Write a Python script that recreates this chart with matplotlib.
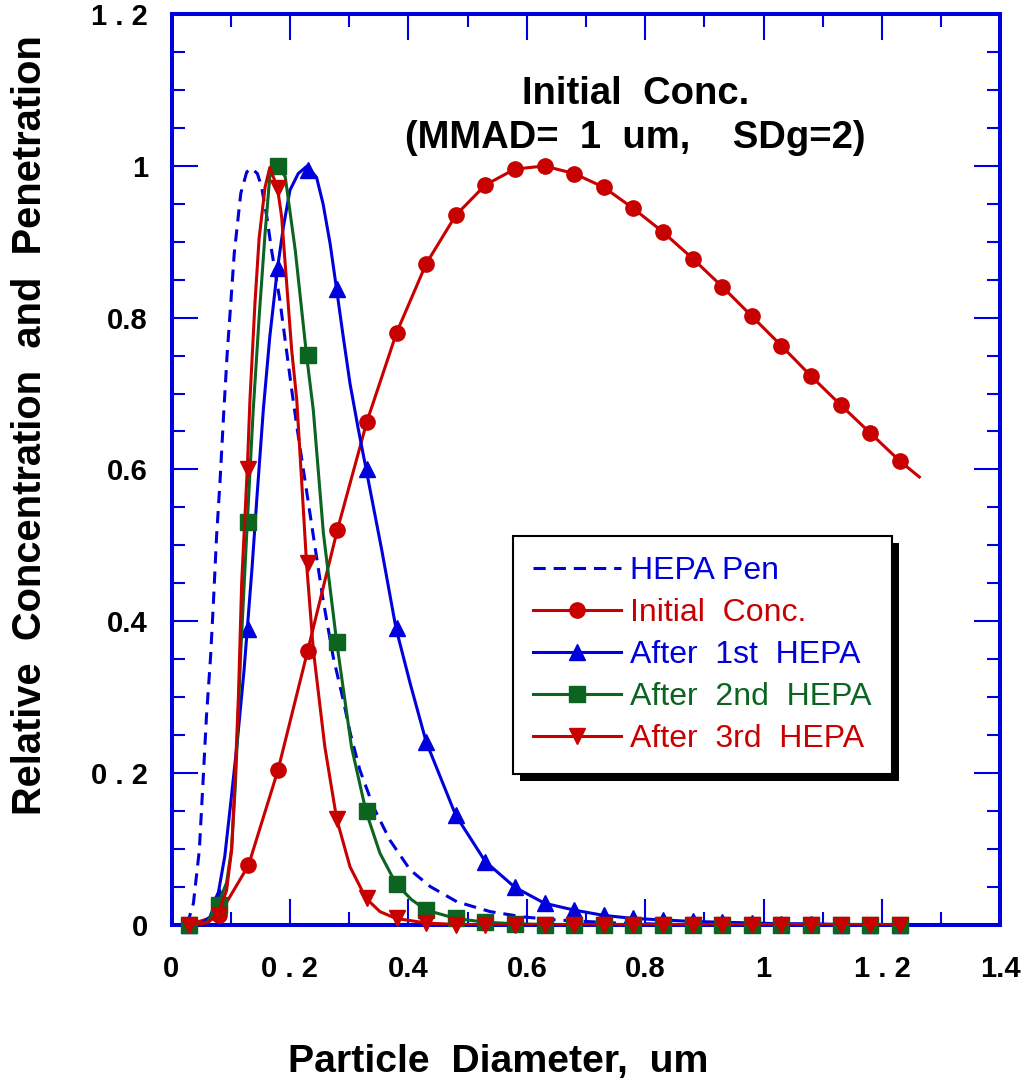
import numpy as np
import matplotlib.pyplot as plt
from matplotlib.lines import Line2D
from matplotlib.patches import Rectangle

plt.rcParams['font.family'] = ['Liberation Sans', 'DejaVu Sans']

BLUE = '#0000DD'
RED = '#C80000'
GREEN = '#0B6420'

# particle diameters where the markers sit (um)
d_mark = [0.03, 0.08, 0.13, 0.18, 0.23, 0.28, 0.33, 0.38, 0.43, 0.48, 0.53, 0.58, 0.63,
          0.68, 0.73, 0.78, 0.83, 0.88, 0.93, 0.98, 1.03, 1.08, 1.13, 1.18, 1.23]
init_mark = [0.0, 0.012, 0.078, 0.204, 0.361, 0.520, 0.663, 0.780, 0.871, 0.935, 0.975, 0.996, 1.000,
             0.990, 0.972, 0.944, 0.913, 0.878, 0.841, 0.802, 0.763, 0.723, 0.685, 0.648, 0.611]
h1_mark = [0.0, 0.037, 0.390, 0.865, 0.995, 0.838, 0.601, 0.391, 0.241, 0.144, 0.083, 0.049, 0.028,
           0.019, 0.012, 0.008, 0.006, 0.004, 0.003, 0.002, 0.001, 0.001, 0.0, 0.0, 0.0]
h2_mark = [0.0, 0.026, 0.530, 1.000, 0.751, 0.372, 0.149, 0.054, 0.019, 0.008, 0.003, 0.001, 0.0,
           0.0, 0.0, 0.0, 0.0, 0.0, 0.0, 0.0, 0.0, 0.0, 0.0, 0.0, 0.0]
h3_mark = [0.0, 0.0125, 0.601, 0.971, 0.477, 0.139, 0.0345, 0.008, 0.002, 0.0, 0.0, 0.0, 0.0,
           0.0, 0.0, 0.0, 0.0, 0.0, 0.0, 0.0, 0.0, 0.0, 0.0, 0.0, 0.0]

# curves
pen_x = [0.025, 0.028, 0.037, 0.047, 0.054, 0.059, 0.066, 0.071, 0.076, 0.082, 0.088, 0.094, 0.100,
         0.106, 0.117, 0.127, 0.135, 0.145, 0.152, 0.161, 0.169, 0.183, 0.192, 0.203, 0.212, 0.223,
         0.240, 0.256, 0.273, 0.290, 0.302, 0.318, 0.341, 0.369, 0.403, 0.437, 0.482, 0.538, 0.594,
         0.65, 0.70, 0.75, 0.80, 0.85]
pen_y = [0.0, 0.004, 0.028, 0.098, 0.199, 0.274, 0.353, 0.428, 0.510, 0.585, 0.672, 0.752, 0.818,
         0.885, 0.964, 0.992, 0.997, 0.990, 0.973, 0.933, 0.889, 0.823, 0.770, 0.705, 0.655, 0.598,
         0.510, 0.428, 0.353, 0.296, 0.252, 0.204, 0.155, 0.111, 0.072, 0.050, 0.030, 0.017, 0.010,
         0.006, 0.004, 0.002, 0.001, 0.0]

init_x = d_mark + [1.263]
init_y = init_mark + [0.590]

h1_x = [0.03, 0.05, 0.065, 0.078, 0.090, 0.100, 0.111, 0.1225, 0.128, 0.136, 0.144, 0.155, 0.166,
        0.179, 0.189, 0.200, 0.214, 0.229, 0.245, 0.256, 0.268, 0.278, 0.290, 0.3015, 0.315, 0.3285,
        0.355, 0.379, 0.403, 0.430, 0.48, 0.53, 0.58, 0.63, 0.68, 0.73, 0.78, 0.83, 0.88, 0.93, 0.98,
        1.03, 1.08, 1.13, 1.18, 1.23]
h1_y = [0.0, 0.001, 0.010, 0.037, 0.090, 0.160, 0.240, 0.335, 0.390, 0.470, 0.560, 0.678, 0.775,
        0.865, 0.920, 0.968, 0.990, 1.000, 0.985, 0.950, 0.897, 0.842, 0.775, 0.713, 0.655, 0.601,
        0.494, 0.391, 0.318, 0.241, 0.144, 0.083, 0.049, 0.028, 0.019, 0.012, 0.008, 0.006, 0.004,
        0.003, 0.002, 0.001, 0.001, 0.0, 0.0, 0.0]

h2_x = [0.03, 0.06, 0.078, 0.093, 0.1015, 0.108, 0.117, 0.128, 0.138, 0.148, 0.158, 0.166, 0.179,
        0.192, 0.209, 0.228, 0.2395, 0.2565, 0.279, 0.304, 0.3285, 0.352, 0.379, 0.405, 0.43, 0.48,
        0.53, 0.58, 0.63, 0.68, 0.73, 0.78, 0.83, 0.88, 0.93, 0.98, 1.03, 1.08, 1.13, 1.18, 1.23]
h2_y = [0.0, 0.003, 0.026, 0.055, 0.100, 0.186, 0.360, 0.530, 0.678, 0.801, 0.911, 0.986, 1.000,
        0.986, 0.889, 0.751, 0.678, 0.516, 0.372, 0.234, 0.149, 0.094, 0.054, 0.033, 0.019, 0.008,
        0.003, 0.001, 0.0, 0.0, 0.0, 0.0, 0.0, 0.0, 0.0, 0.0, 0.0, 0.0, 0.0, 0.0, 0.0]

h3_x = [0.03, 0.06, 0.078, 0.093, 0.1015, 0.107, 0.113, 0.1185, 0.128, 0.1325, 0.141, 0.148, 0.158,
        0.166, 0.179, 0.186, 0.1945, 0.203, 0.2115, 0.22, 0.228, 0.2395, 0.259, 0.279, 0.3015,
        0.3285, 0.352, 0.379, 0.43, 0.48, 0.53, 0.58, 0.63, 0.68, 0.73, 0.78, 0.83, 0.88, 0.93,
        0.98, 1.03, 1.08, 1.13, 1.18, 1.23]
h3_y = [0.0, 0.002, 0.0125, 0.045, 0.098, 0.186, 0.300, 0.450, 0.601, 0.692, 0.820, 0.905, 0.972,
        0.998, 0.971, 0.933, 0.845, 0.757, 0.692, 0.582, 0.477, 0.362, 0.234, 0.139, 0.076,
        0.0345, 0.017, 0.008, 0.002, 0.0, 0.0, 0.0, 0.0, 0.0, 0.0, 0.0, 0.0, 0.0, 0.0,
        0.0, 0.0, 0.0, 0.0, 0.0, 0.0]

x_ticks = [0, 0.2, 0.4, 0.6, 0.8, 1.0, 1.2, 1.4]
x_labels = ['0', '0 . 2', '0.4', '0.6', '0.8', '1', '1 . 2', '1.4']
y_ticks = [0, 0.2, 0.4, 0.6, 0.8, 1.0, 1.2]
y_labels = ['0', '0 . 2', '0.4', '0.6', '0.8', '1', '1 . 2']

W, H = 1034, 1085
fig = plt.figure(figsize=(W / 100, H / 100), dpi=100)
ax = fig.add_axes([171.5 / W, 1 - 924.5 / H, 829 / W, 910.2 / H])

lw = 2.2
ms = 11
dash = (4, 2.6)

ax.plot(pen_x, pen_y, color=BLUE, lw=lw, dashes=dash, zorder=2)
ax.plot(init_x, init_y, color=RED, lw=lw, zorder=3)
ax.plot(d_mark, init_mark, 'o', color=RED, ms=ms, zorder=3, clip_on=False)
ax.plot(h1_x, h1_y, color=BLUE, lw=lw, zorder=4)
ax.plot(d_mark, h1_mark, '^', color=BLUE, ms=ms, zorder=4, clip_on=False)
ax.plot(h2_x, h2_y, color=GREEN, lw=lw, zorder=5)
ax.plot(d_mark, h2_mark, 's', color=GREEN, ms=ms, zorder=5, clip_on=False)
ax.plot(h3_x, h3_y, color=RED, lw=lw, zorder=6)
ax.plot(d_mark, h3_mark, 'v', color=RED, ms=ms, zorder=6, clip_on=False)

ax.set_xlim(0, 1.4)
ax.set_ylim(0, 1.2)
ax.set_xticks(x_ticks)
ax.set_xticklabels(x_labels)
ax.set_yticks(y_ticks)
ax.set_yticklabels(y_labels)
ax.set_xticks(np.arange(0, 1.41, 0.1), minor=True)
ax.set_yticks(np.arange(0, 1.21, 0.05), minor=True)
for s in ax.spines.values():
    s.set_color(BLUE)
    s.set_linewidth(2.9)
ax.tick_params(which='both', direction='in', top=True, right=True, color=BLUE, width=1.5)
ax.tick_params(which='major', length=19)
ax.tick_params(which='minor', length=9.5)
ax.tick_params(axis='x', pad=22, labelsize=21)
ax.tick_params(axis='y', pad=17, labelsize=21)
for t in ax.get_xticklabels() + ax.get_yticklabels():
    t.set_fontweight('bold')

# legend
handles = [
    Line2D([], [], color=BLUE, lw=lw, dashes=dash),
    Line2D([], [], color=RED, lw=lw, marker='o', ms=ms),
    Line2D([], [], color=BLUE, lw=lw, marker='^', ms=ms),
    Line2D([], [], color=GREEN, lw=lw, marker='s', ms=ms),
    Line2D([], [], color=RED, lw=lw, marker='v', ms=ms),
]
names = ['HEPA Pen', 'Initial  Conc.', 'After  1st  HEPA', 'After  2nd  HEPA', 'After  3rd  HEPA']
leg = ax.legend(handles, names, loc='upper left', bbox_to_anchor=(0.412, 0.4268),
                borderaxespad=0, fontsize=23, frameon=True, fancybox=False,
                edgecolor='black', framealpha=1, handlelength=2.75, handletextpad=0.3,
                labelspacing=0.38, borderpad=0.62, numpoints=1)
leg.get_frame().set_linewidth(1.5)
for t, c in zip(leg.get_texts(), [BLUE, RED, BLUE, GREEN, RED]):
    t.set_color(c)

# solid black drop shadow behind the legend box
fig.canvas.draw()
bb = leg.get_window_extent()
inv = ax.transAxes.inverted()
(x0, y0), (x1, y1) = inv.transform([[bb.x0 + 7, bb.y0 - 7], [bb.x1 + 7, bb.y1 - 7]])
ax.add_patch(Rectangle((x0, y0), x1 - x0, y1 - y0, transform=ax.transAxes,
                       facecolor='black', edgecolor='none', zorder=leg.get_zorder() - 0.1,
                       clip_on=False))

fig.text(636 / W, 1 - 94 / H, 'Initial  Conc.', ha='center', va='center',
         fontsize=27.5, fontweight='bold')
fig.text(635 / W, 1 - 138 / H, '(MMAD=  1  um,    SDg=2)', ha='center', va='center',
         fontsize=27.5, fontweight='bold')
fig.text(498 / W, 1 - 1062 / H, 'Particle  Diameter,  um', ha='center', va='center',
         fontsize=28.3, fontweight='bold')
fig.text(30 / W, 1 - 425 / H, 'Relative  Concentration  and  Penetration', ha='center',
         va='center', rotation=90, fontsize=28.7, fontweight='bold')

fig.savefig('out.png', dpi=100)
